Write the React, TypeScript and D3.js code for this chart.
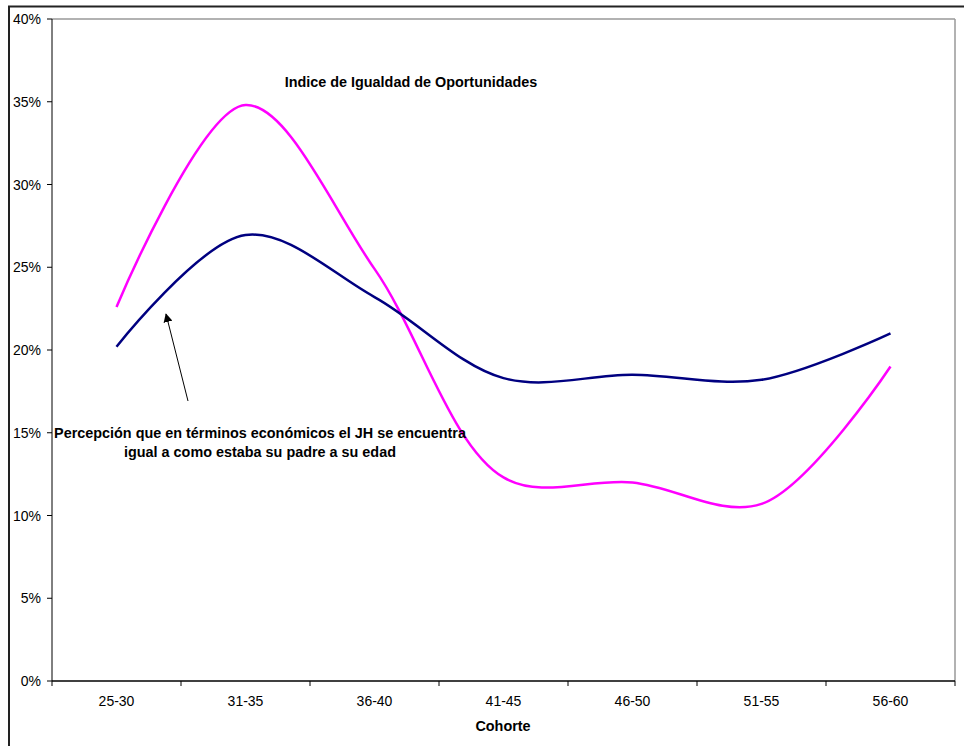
import React from "react";
import * as d3 from "d3";

const cohorts = ["25-30", "31-35", "36-40", "41-45", "46-50", "51-55", "56-60"];
const seriesMagenta = [0.226, 0.348, 0.249, 0.123, 0.12, 0.107, 0.19];
const seriesNavy = [0.202, 0.2695, 0.232, 0.183, 0.185, 0.182, 0.21];
const yTicks = [0, 0.05, 0.1, 0.15, 0.2, 0.25, 0.3, 0.35, 0.4];

const title = "Indice de Igualdad de Oportunidades";
const xTitle = "Cohorte";
const noteLines = [
  "Percepción que en términos económicos el JH se encuentra",
  "igual a como estaba su padre a su edad",
];

const W = 964;
const H = 746;
const plot = { left: 52, top: 19, right: 955, bottom: 681 };
const font = "Arial, 'Liberation Sans', sans-serif";

export default function App() {
  const x = d3
    .scaleBand<string>()
    .domain(cohorts)
    .range([plot.left, plot.right])
    .paddingInner(0)
    .paddingOuter(0);
  const y = d3.scaleLinear().domain([0, 0.4]).range([plot.bottom, plot.top]);
  const cx = (c: string) => (x(c) ?? 0) + x.bandwidth() / 2;

  const line = d3
    .line<number>()
    .x((_, i) => cx(cohorts[i]))
    .y((v) => y(v))
    .curve(d3.curveCatmullRom.alpha(0.5));

  const fmt = d3.format(".0%");
  const boundaries = [...cohorts.map((c) => x(c) ?? 0), plot.right];

  // annotation arrow: from the note up toward the navy line
  const arrowFrom = { x: 188, y: 401 };
  const arrowTo = { x: 166, y: 314 };

  return (
    <svg
      width={W}
      height={H}
      style={{ position: "absolute", left: 0, top: 0, background: "#fff" }}
      fontFamily={font}
    >
      <defs>
        <marker
          id="arrowHead"
          viewBox="0 0 10 10"
          refX="9"
          refY="5"
          markerWidth="9"
          markerHeight="9"
          markerUnits="userSpaceOnUse"
          orient="auto"
        >
          <path d="M0,0 L10,5 L0,10 z" fill="#000" />
        </marker>
      </defs>

      {/* outer chart frame */}
      <rect x={9} y={6.5} width={W + 20} height={H + 20} fill="none" stroke="#222" strokeWidth={2} />

      {/* plot area frame */}
      <line x1={plot.left} y1={plot.top} x2={plot.right} y2={plot.top} stroke="#999" strokeWidth={1.5} />
      <line x1={plot.right} y1={plot.top} x2={plot.right} y2={plot.bottom} stroke="#999" strokeWidth={1.5} />

      {/* y axis */}
      <line x1={plot.left} y1={plot.top} x2={plot.left} y2={plot.bottom} stroke="#000" strokeWidth={1} />
      {yTicks.map((t) => (
        <g key={t}>
          <line x1={plot.left - 5} x2={plot.left} y1={y(t)} y2={y(t)} stroke="#000" />
          <text x={41} y={y(t) + 5} textAnchor="end" fontSize={14} fill="#000">
            {fmt(t)}
          </text>
        </g>
      ))}

      {/* x axis */}
      <line x1={plot.left} y1={plot.bottom} x2={plot.right} y2={plot.bottom} stroke="#000" strokeWidth={1.5} />
      {boundaries.map((b, i) => (
        <line key={i} x1={b} x2={b} y1={plot.bottom} y2={plot.bottom + 5} stroke="#000" />
      ))}
      {cohorts.map((c) => (
        <text key={c} x={cx(c)} y={plot.bottom + 25} textAnchor="middle" fontSize={14} fill="#000">
          {c}
        </text>
      ))}
      <text x={503} y={731} textAnchor="middle" fontSize={14.4} fontWeight="bold" fill="#000">
        {xTitle}
      </text>

      {/* series */}
      <path d={line(seriesMagenta) ?? ""} fill="none" stroke="#FF00FF" strokeWidth={2.5} />
      <path d={line(seriesNavy) ?? ""} fill="none" stroke="#000080" strokeWidth={2.5} />

      {/* title */}
      <text x={411} y={87} textAnchor="middle" fontSize={14.4} fontWeight="bold" fill="#000">
        {title}
      </text>

      {/* annotation */}
      <line
        x1={arrowFrom.x}
        y1={arrowFrom.y}
        x2={arrowTo.x}
        y2={arrowTo.y}
        stroke="#000"
        strokeWidth={1}
        markerEnd="url(#arrowHead)"
      />
      {noteLines.map((l, i) => (
        <text key={i} x={260} y={438 + i * 19} textAnchor="middle" fontSize={14.4} fontWeight="bold" fill="#000">
          {l}
        </text>
      ))}
    </svg>
  );
}
